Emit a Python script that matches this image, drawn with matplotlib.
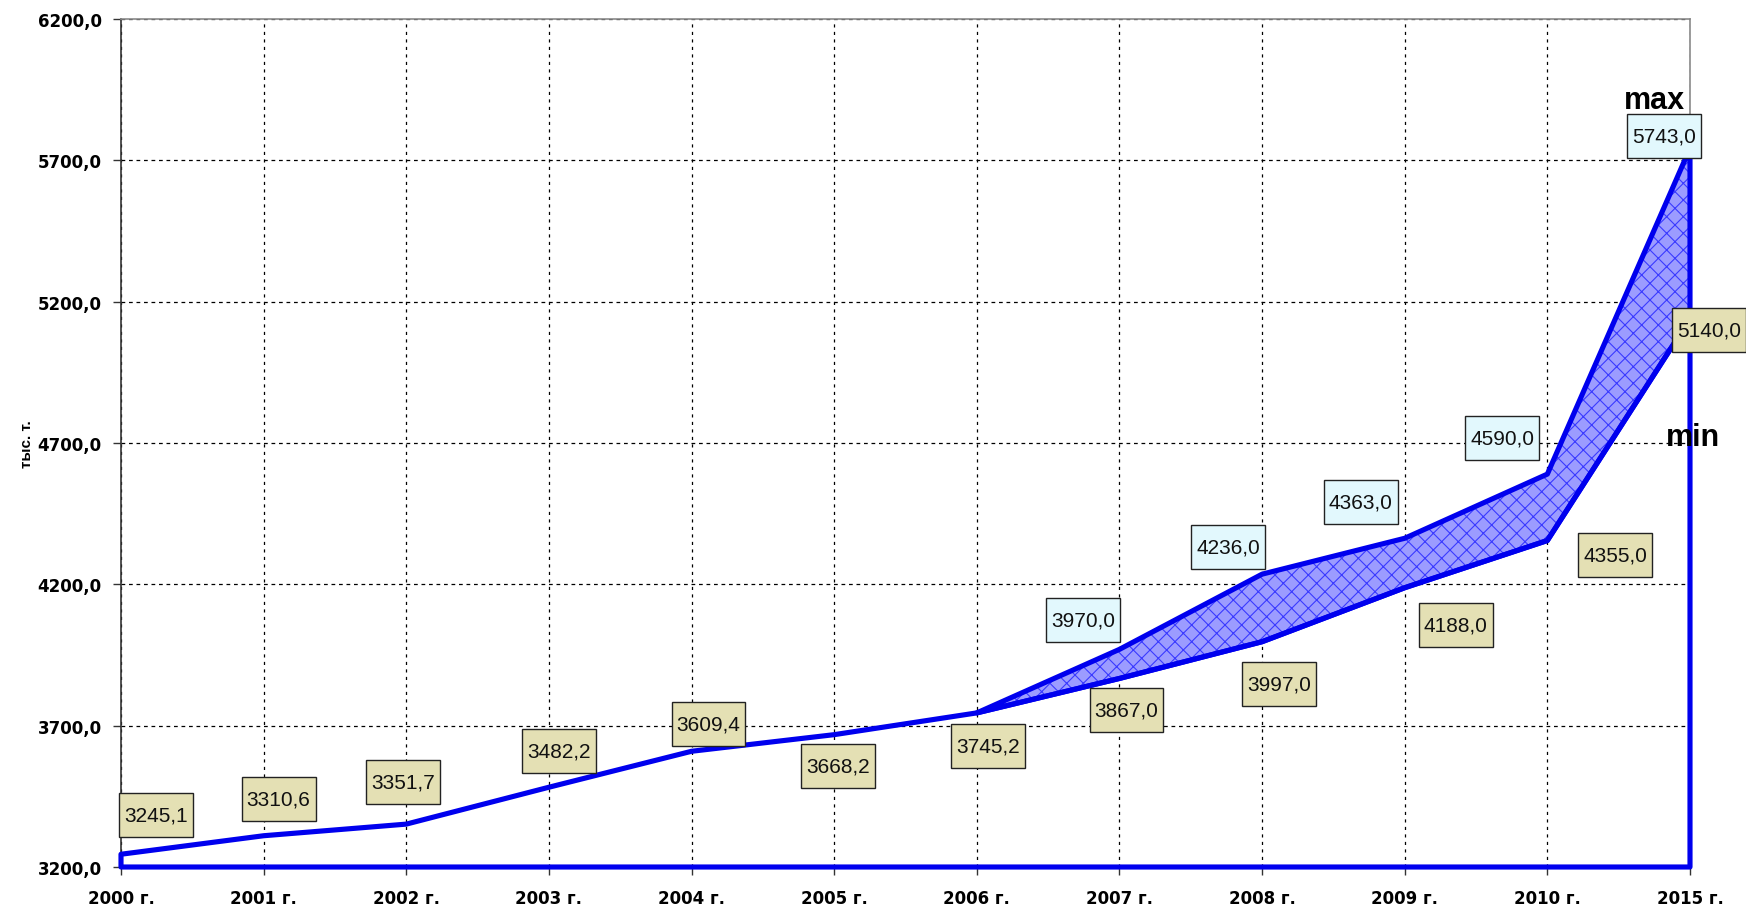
import numpy as np
import matplotlib
matplotlib.use("Agg")
import matplotlib.pyplot as plt
from matplotlib.path import Path
from matplotlib.ticker import FuncFormatter

# ---------------- data ----------------
years = ["2000 г.", "2001 г.", "2002 г.", "2003 г.", "2004 г.", "2005 г.",
         "2006 г.", "2007 г.", "2008 г.", "2009 г.", "2010 г.", "2015 г."]
min_values = [3245.1, 3310.6, 3351.7, 3482.2, 3609.4, 3668.2,
              3745.2, 3867.0, 3997.0, 4188.0, 4355.0, 5140.0]
max_values = [np.nan, np.nan, np.nan, np.nan, np.nan, np.nan,
              3745.2, 3970.0, 4236.0, 4363.0, 4590.0, 5743.0]
y_ticks = [3200, 3700, 4200, 4700, 5200, 5700, 6200]
y_label = "тыс. т."

# label offsets (pixels, relative to point)
min_offsets = [(35, 39), (15, 37), (-3, 42), (10, 36), (17, 27), (4, -31),
               (11, -33), (7, -32), (17, -42), (51, -37), (68, -14), (19, -11)]
max_offsets = {7: (-36, 29), 8: (-34, 27), 9: (-44, 36), 10: (-45, 36), 11: (-26, 12)}

plt.rcParams['font.family'] = ['Liberation Sans', 'DejaVu Sans']

W, H = 1746, 912
fig = plt.figure(figsize=(W / 100, H / 100), dpi=100)
ax = fig.add_axes([121 / W, 1 - 868 / H, (1690 - 121) / W, (868 - 20) / H])

x = np.arange(len(years))
ymin_axis, ymax_axis = y_ticks[0], y_ticks[-1]
ax.set_xlim(0, len(years) - 1)
ax.set_ylim(ymin_axis, ymax_axis)

ax.set_yticks(y_ticks)
ax.set_xticks(x)
ax.set_xticklabels(years)
ax.grid(True, which='major', axis='y', color='black', linestyle=(0, (3, 3)), linewidth=0.9)
ax.grid(True, which='major', axis='x', color='black', linestyle=(0, (2.5, 3.5)), linewidth=0.9)
ax.set_axisbelow(True)

ax.yaxis.set_major_formatter(FuncFormatter(lambda v, p: f"{v:.1f}".replace('.', ',')))
ax.tick_params(axis='both', direction='out', length=6, width=1, color='#333333',
               labelsize=12)
ax.tick_params(axis='y', pad=8)
ax.tick_params(axis='x', pad=10)
for lbl in ax.get_xticklabels() + ax.get_yticklabels():
    lbl.set_fontweight('bold')
    lbl.set_family('DejaVu Sans')

for s in ['top', 'right']:
    ax.spines[s].set_color('#8a8a8a')
    ax.spines[s].set_linewidth(1.2)
ax.spines['left'].set_color('#333333')
ax.spines['left'].set_linewidth(1.2)
ax.spines['bottom'].set_visible(False)

blue = '#0000EE'
plt.rcParams['hatch.linewidth'] = 0.8

# min area outline
ax.fill_between(x, ymin_axis, min_values, facecolor='none', edgecolor=blue,
                linewidth=3.7, clip_on=False, zorder=3)

# max-min band
mx = np.array(max_values, dtype=float)
mn = np.array(min_values, dtype=float)
mask = ~np.isnan(mx)
ax.fill_between(x[mask], mn[mask], mx[mask], facecolor='#9c9cff', edgecolor='#3a3aff',
                hatch='xx', linewidth=0, zorder=2)
ax.fill_between(x[mask], mn[mask], mx[mask], facecolor='none', edgecolor=blue,
                linewidth=3.7, clip_on=False, zorder=3)


def make_box(target_h=44, padx=5):
    def box(x0, y0, width, height, mutation_size):
        py = max((target_h - height) / 2.0, 2)
        xa, xb = x0 - padx, x0 + width + padx
        ya, yb = y0 - py, y0 + height + py
        return Path([(xa, ya), (xb, ya), (xb, yb), (xa, yb), (xa, ya)],
                    [Path.MOVETO, Path.LINETO, Path.LINETO, Path.LINETO, Path.CLOSEPOLY])
    return box


def fmt(v):
    return f"{v:.1f}".replace('.', ',')


for i, v in enumerate(min_values):
    dx, dy = min_offsets[i]
    ax.annotate(fmt(v), xy=(i, v), xytext=(dx, dy), textcoords='offset pixels',
                ha='center', va='center', fontsize=15, color='#111111',
                bbox=dict(boxstyle=make_box(), facecolor='#e4e0b4', edgecolor='#222222',
                          linewidth=1.0),
                annotation_clip=False, zorder=6)

for i, (dx, dy) in max_offsets.items():
    v = max_values[i]
    ax.annotate(fmt(v), xy=(i, v), xytext=(dx, dy), textcoords='offset pixels',
                ha='center', va='center', fontsize=15, color='#111111',
                bbox=dict(boxstyle=make_box(), facecolor='#e2f8fd', edgecolor='#222222',
                          linewidth=1.0),
                annotation_clip=False, zorder=6)

ax.text(10.75, 5913, "max", ha='center', va='center', fontsize=22, fontweight='bold',
        color='black', zorder=7)
ax.text(11.02, 4721, "min", ha='center', va='center', fontsize=22, fontweight='bold',
        color='black', zorder=7, clip_on=False)

fig.text(27 / W, 1 - 444 / H, y_label, rotation=90, ha='center', va='center',
         fontsize=11, fontweight='bold')

fig.savefig("out.png", dpi=100, facecolor='white')
